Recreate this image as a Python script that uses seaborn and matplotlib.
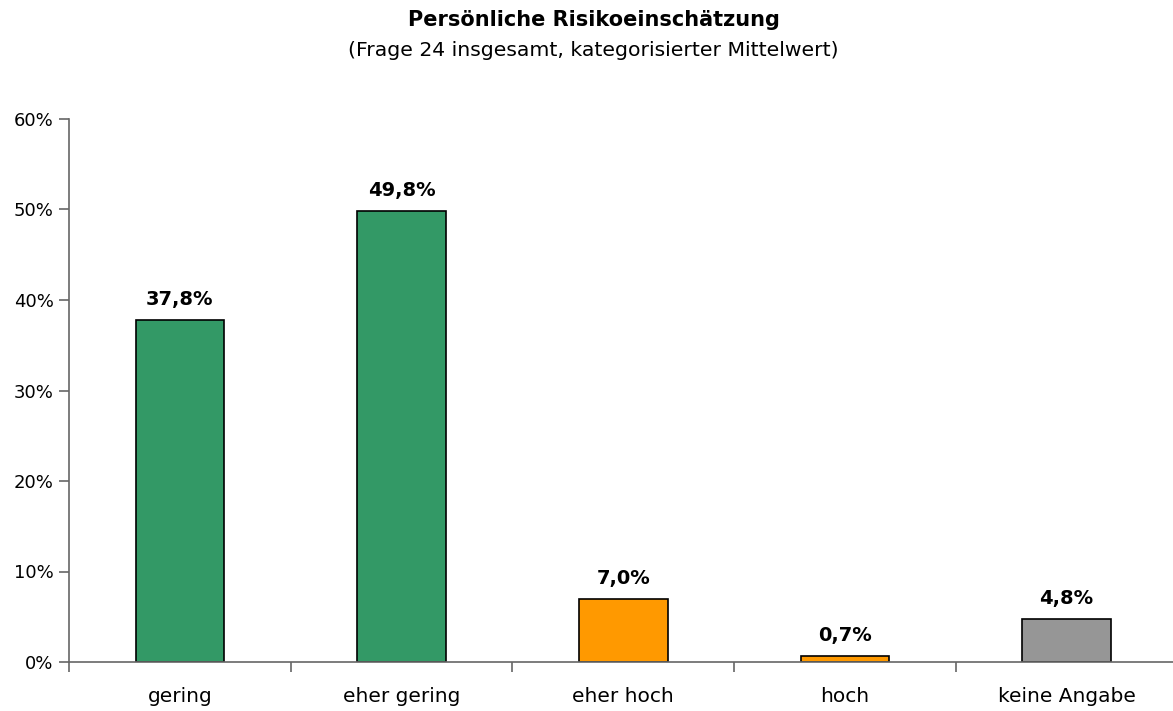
import matplotlib
matplotlib.use("Agg")
import matplotlib.pyplot as plt
import seaborn as sns
import pandas as pd
from matplotlib.ticker import FixedLocator, FuncFormatter

categories = ["gering", "eher gering", "eher hoch", "hoch", "keine Angabe"]
values = [37.8, 49.8, 7.0, 0.7, 4.8]
colors = ["#339966", "#339966", "#FF9900", "#FF9900", "#969696"]
yticks = [0, 10, 20, 30, 40, 50, 60]

sns.set_theme(style="white")
plt.rcParams['font.family'] = ['DejaVu Sans']
plt.rcParams['text.color'] = 'black'
plt.rcParams['xtick.labelcolor'] = 'black'
plt.rcParams['ytick.labelcolor'] = 'black'

df = pd.DataFrame({"cat": categories, "val": values})

fig = plt.figure(figsize=(11.73, 7.11), dpi=100)
ax = fig.add_axes([69/1173, 49/711, (1173-69)/1173, 543/711])

sns.barplot(data=df, x="cat", y="val", hue="cat", palette=colors, dodge=False,
            width=0.4, edgecolor="black", linewidth=1.2, legend=False, ax=ax, saturation=1)

ax.set_xlim(-0.5, 4.48)
ax.set_ylim(0, 60)
ax.set_yticks(yticks)
ax.yaxis.set_major_formatter(FuncFormatter(lambda v, p: f"{int(v)}%"))
ax.set_xlabel("")
ax.set_ylabel("")

ax.set_xticks(range(len(categories)))
ax.set_xticklabels(categories, fontsize=14.5, color="black")
ax.xaxis.set_minor_locator(FixedLocator([-0.5, 0.5, 1.5, 2.5, 3.5]))
ax.tick_params(axis="x", which="major", length=0, pad=18)
ax.tick_params(axis="x", which="minor", length=7, width=1.2, color="#666666", direction="out", bottom=True)
ax.tick_params(axis="y", which="major", length=7, width=1.2, color="#666666", direction="out", left=True,
               labelsize=13, pad=4, labelcolor="black")

for s in ["top", "right"]:
    ax.spines[s].set_visible(False)
for s in ["left", "bottom"]:
    ax.spines[s].set_color("#666666")
    ax.spines[s].set_linewidth(1.2)

for i, v in enumerate(values):
    ax.text(i, v + 1.2, f"{v:.1f}%".replace(".", ","), ha="center", va="bottom",
            fontsize=14, fontweight="bold", color="black")

fig.text(594/1173, 1 - 20/711, "Persönliche Risikoeinschätzung", ha="center", va="center",
         fontsize=15, fontweight="bold", color="black")
fig.text(593/1173, 1 - 50/711, "(Frage 24 insgesamt, kategorisierter Mittelwert)", ha="center",
         va="center", fontsize=14.7, color="black")

fig.savefig("out.png", dpi=100)
